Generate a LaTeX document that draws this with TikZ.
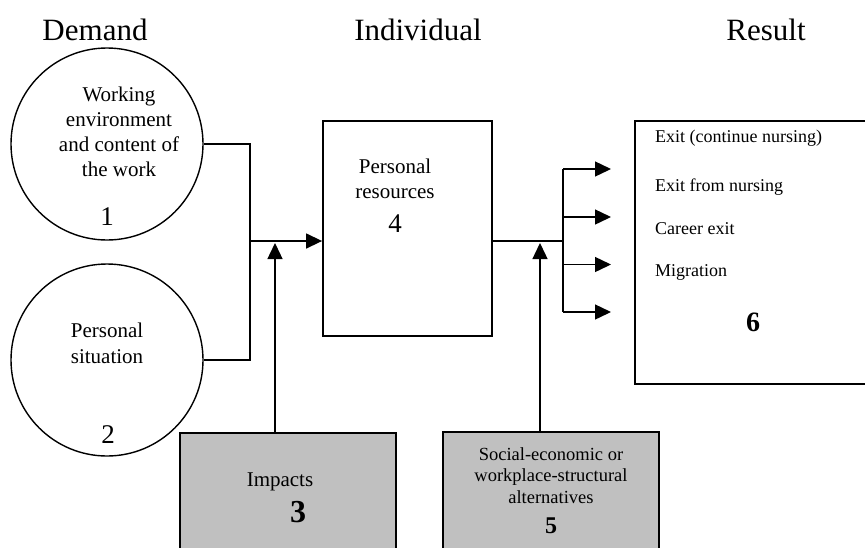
\documentclass[tikz,border=0pt]{standalone}
\usepackage{fontspec}
\setmainfont{Liberation Serif}
\usetikzlibrary{arrows.meta}
\definecolor{boxgray}{RGB}{192,192,192}
\begin{document}
\begin{tikzpicture}[x=1pt,y=-1pt,
 line/.style={line width=1.4pt},
 arr/.style={line width=1.4pt,-{Triangle[length=16pt,width=15pt]}},
 circ/.style={circle,draw,line width=1.4pt,minimum size=192pt,inner sep=0pt},
 wbox/.style={draw,line width=1.8pt,inner sep=0pt},
 gbox/.style={draw,fill=boxgray,line width=1.8pt,inner sep=0pt},
 txt/.style={inner sep=0pt,anchor=base},
 ttl/.style={txt,font=\fontsize{31}{36}\selectfont},
 body/.style={txt,font=\fontsize{21}{25}\selectfont},
 small/.style={txt,font=\fontsize{18}{22}\selectfont},
 mid/.style={txt,font=\fontsize{18.5}{22}\selectfont},
 num/.style={txt,font=\fontsize{27}{30}\selectfont},
 bnum/.style={txt,font=\bfseries\fontsize{#1}{30}\selectfont},
]
\clip (0,0) rectangle (865,547);
% titles
\node[ttl] (tdemand) at (95,40) {Demand};
\node[ttl] (tindiv) at (418,40) {Individual};
\node[ttl] (tresult) at (766,40) {Result};
% circles
\node[circ] (c1) at (107,144) {};
\node[circ] (c2) at (107,360) {};
\node[body] (c1a) at (119,101.5) {Working};
\node[body] (c1b) at (119,126.5) {environment};
\node[body] (c1c) at (119,151) {and content of};
\node[body] (c1d) at (119,176) {the work};
\node[num] (c1n) at (107,225.5) {1};
\node[body] (c2a) at (107,337.5) {Personal};
\node[body] (c2b) at (107,363) {situation};
\node[num] (c2n) at (108,443) {2};
% box 4
\node[wbox,minimum width=169pt,minimum height=215pt] (b4) at (407.5,228.5) {};
\node[body] (b4a) at (395,173) {Personal};
\node[body] (b4b) at (395,198) {resources};
\node[num] (b4n) at (395,232) {4};
% box 6
\node[wbox,minimum width=260pt,minimum height=263pt] (b6) at (765,252.5) {};
\node[small,anchor=base west] (e1) at (655,142) {Exit (continue nursing)};
\node[small,anchor=base west] (e2) at (655,191) {Exit from nursing};
\node[small,anchor=base west] (e3) at (655,234) {Career exit};
\node[small,anchor=base west] (e4) at (655,276) {Migration};
\node[bnum=28] (b6n) at (753,331) {6};
% box 3
\node[gbox,minimum width=216pt,minimum height=167pt] (b3) at (288,516.5) {};
\node[body] (b3a) at (280,486) {Impacts};
\node[bnum=32] (b3n) at (298,522) {3};
% box 5
\node[gbox,minimum width=216pt,minimum height=168pt] (b5) at (551,516) {};
\node[mid] (b5a) at (551,460) {Social-economic or};
\node[mid] (b5b) at (551,481) {workplace-structural};
\node[mid] (b5c) at (551,503) {alternatives};
\node[bnum=24] (b5n) at (551,533) {5};
% left connectors
\coordinate (j1) at (250,241);
\draw[line] (c1.east) -| (j1);
\draw[line] (c2.east) -| (j1);
\draw[arr] (j1) -- (j1 -| b4.west);
\coordinate (t3) at (275,243);
\draw[arr] (b3.north -| t3) -- (t3);
% right connectors
\coordinate (j2) at (563,241);
\draw[line] (b4.east |- j2) -- (j2);
\coordinate (r1) at (563,169);
\coordinate (r2) at (563,217);
\coordinate (r3) at (563,264.5);
\coordinate (r4) at (563,312);
\draw[line] (r1) -- (r4);
\coordinate (p1) at (611,169);
\coordinate (p2) at (611,217);
\coordinate (p3) at (611,264.5);
\coordinate (p4) at (611,312);
\draw[arr] (r1) -- (p1);
\draw[arr] (r2) -- (p2);
\draw[arr] (r3) -- (p3);
\draw[arr] (r4) -- (p4);
\coordinate (t5) at (540,243);
\draw[arr] (b5.north -| t5) -- (t5);
\end{tikzpicture}
\end{document}
